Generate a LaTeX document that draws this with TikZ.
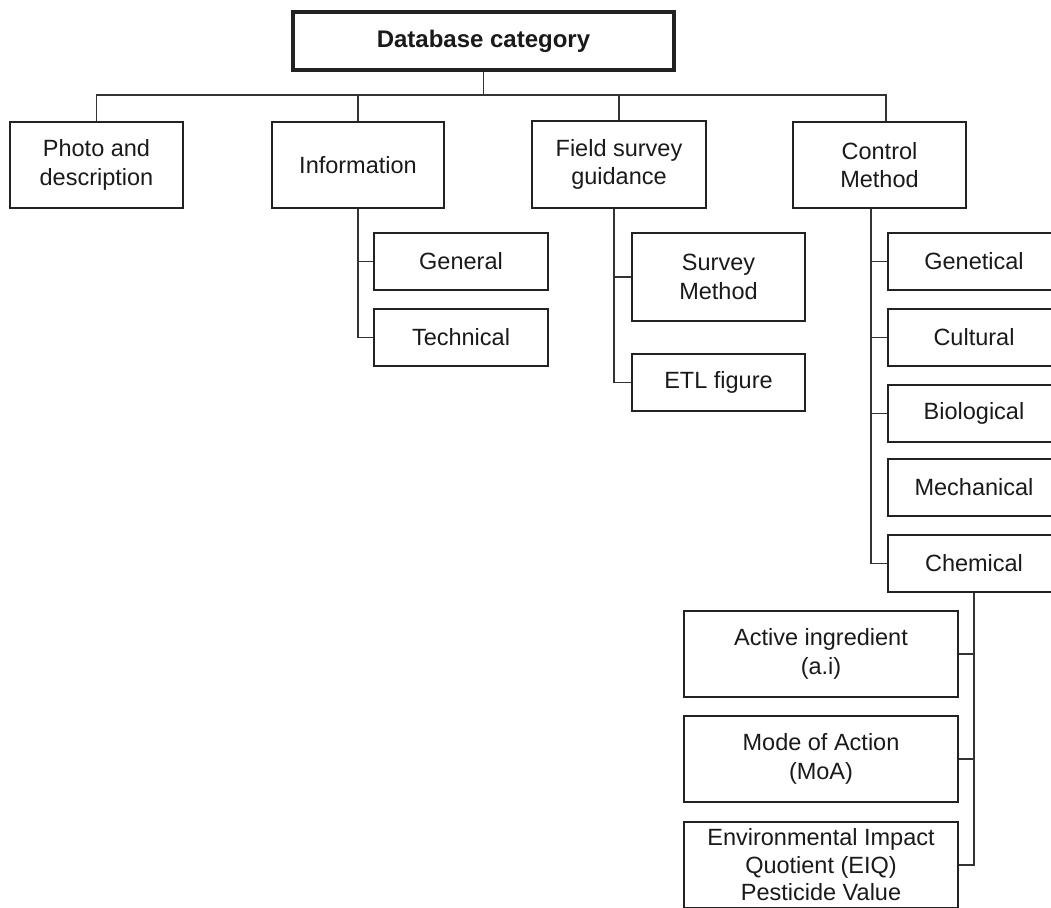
\documentclass[tikz,border=0pt]{standalone}
\usepackage{fontspec}
\setmainfont{Liberation Sans}
\definecolor{boxline}{HTML}{222222}
\definecolor{conline}{HTML}{333333}
\definecolor{txt}{HTML}{1A1A1A}
\begin{document}
\begin{tikzpicture}[x=1pt,y=-1pt,
  box/.style={draw=boxline, line width=2.5pt, fill=white, align=center, inner sep=0pt,
    text=txt, font=\fontsize{23.5}{28.5}\selectfont},
  topbox/.style={box, line width=3.6pt, font=\bfseries\fontsize{24}{30}\selectfont},
  con/.style={draw=conline, line width=1.4pt}]
\useasboundingbox (0,0) rectangle (1051,907);
\clip (0,0) rectangle (1051,907);
\fill[white] (0,0) rectangle (1051,907);
\coordinate (bus) at (0,95);
\node[topbox, minimum width=381pt, minimum height=58pt] (db) at (483.5,41) {Database category};
\node[box, minimum width=173pt, minimum height=86pt] (photo) at (96.5,165) {Photo and\\description};
\node[box, minimum width=172pt, minimum height=86pt] (info) at (358,165) {Information};
\node[box, minimum width=174pt, minimum height=87pt] (fs) at (619,164.5) {Field survey\\guidance};
\node[box, minimum width=173pt, minimum height=86pt] (cm) at (879.5,165) {Control\\Method};
\node[box, minimum width=174pt, minimum height=57pt] (gen) at (461,261.5) {General};
\node[box, minimum width=174pt, minimum height=57pt] (tech) at (461,337.5) {Technical};
\node[box, minimum width=173pt, minimum height=88pt] (sm) at (718.5,277) {Survey\\Method};
\node[box, minimum width=173pt, minimum height=57pt] (etl) at (718.5,382.5) {ETL figure};
\node[box, minimum width=172pt, minimum height=57pt] (genet) at (974,261.5) {Genetical};
\node[box, minimum width=172pt, minimum height=57pt] (cult) at (974,337.5) {Cultural};
\node[box, minimum width=172pt, minimum height=57pt] (bio) at (974,413.5) {Biological};
\node[box, minimum width=172pt, minimum height=57pt] (mech) at (974,487.5) {Mechanical};
\node[box, minimum width=172pt, minimum height=57pt] (chem) at (974,563.5) {Chemical};
\node[box, minimum width=274pt, minimum height=86pt] (ai) at (821,654) {Active ingredient\\(a.i)};
\node[box, minimum width=274pt, minimum height=86pt] (moa) at (821,759) {Mode of Action\\(MoA)};
\node[box, minimum width=274pt, minimum height=86pt, font=\fontsize{23.5}{27.5}\selectfont] (eiq) at (821,865) {Environmental Impact\\Quotient (EIQ)\\Pesticide Value};
% trunk tops
\coordinate (fsT) at ([xshift=-5pt]fs.south);
\coordinate (cmT) at ([xshift=-8.5pt]cm.south);
\coordinate (cmN) at ([xshift=6.5pt]cm.north);
% top level
\draw[con] (db.south) -- (db.south |- bus);
\draw[con] (photo.north) -- (photo.north |- bus) -| (cmN);
\draw[con] (info.north) -- (info.north |- bus);
\draw[con] (fs.north) -- (fs.north |- bus);
% information
\draw[con] (info.south) |- (tech.west);
\draw[con] (gen.west) -- (gen.west -| info.south);
% field survey
\draw[con] (fsT) |- (etl.west);
\draw[con] (sm.west) -- (sm.west -| fsT);
% control method
\draw[con] (cmT) |- (chem.west);
\draw[con] (genet.west) -- (genet.west -| cmT);
\draw[con] (cult.west) -- (cult.west -| cmT);
\draw[con] (bio.west) -- (bio.west -| cmT);
% chemical
\draw[con] (chem.south) |- (eiq.east);
\draw[con] (ai.east) -- (ai.east -| chem.south);
\draw[con] (moa.east) -- (moa.east -| chem.south);
\end{tikzpicture}
\end{document}
